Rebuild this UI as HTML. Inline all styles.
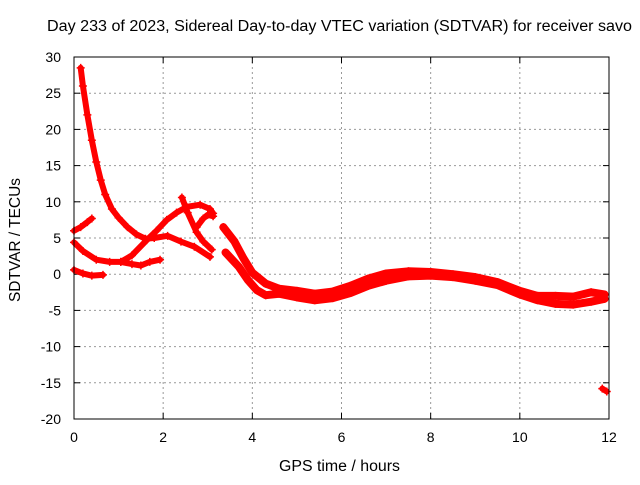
<!DOCTYPE html>
<html><head><meta charset="utf-8"><style>
body{margin:0;background:#fff}
svg text{font-family:"Liberation Sans",sans-serif;font-size:14px;fill:#000}
</style></head><body>
<svg id="chart" width="640" height="480" xmlns="http://www.w3.org/2000/svg">
<text x="47" y="31" textLength="585" lengthAdjust="spacingAndGlyphs" style="font-size:15.5px">Day 233 of 2023, Sidereal Day-to-day VTEC variation (SDTVAR) for receiver savo</text>
<g id="grid"></g>
<g id="ticks"></g>
<g id="series"></g>
<rect x="74" y="57" width="535" height="362" fill="none" stroke="#000" stroke-width="1"/>
<text x="279" y="471" textLength="121" lengthAdjust="spacingAndGlyphs" style="font-size:15.5px">GPS time / hours</text>
<text transform="translate(20,302) rotate(-90)" textLength="124" lengthAdjust="spacingAndGlyphs" style="font-size:15.5px">SDTVAR / TECUs</text>
</svg>
<script>
const xTicks=[0,2,4,6,8,10,12];
const yTicks=[30,25,20,15,10,5,0,-5,-10,-15,-20];
const seriesA=[[0.15,28.5],[0.2,26],[0.3,22],[0.4,18.5],[0.5,15.5],[0.6,13],[0.7,11],[0.85,9],[1.0,7.8],[1.2,6.5],[1.4,5.5],[1.6,4.9],[1.8,5.0],[2.1,5.3],[2.4,4.5],[2.7,3.8],[3.05,2.4]];
const seriesB=[[0,4.4],[0.2,3.2],[0.5,2.0],[0.8,1.7],[1.05,1.7],[1.3,2.6],[1.63,4.7],[1.85,6.0],[2.08,7.5],[2.3,8.5],[2.53,9.3],[2.83,9.6],[3.05,9.0],[3.12,8.4]];
const seriesB2=[[1.05,1.7],[1.3,1.4],[1.5,1.2],[1.7,1.7],[1.93,2.0]];
const seriesC=[[0,6.0],[0.15,6.5],[0.3,7.2],[0.4,7.7]];
const seriesD=[[0,0.6],[0.2,0.1],[0.4,-0.2],[0.65,-0.1]];
const seriesE=[[2.42,10.6],[2.55,8.5],[2.75,5.8],[2.9,4.5],[3.09,3.4]];
const seriesE2=[[2.75,6.5],[2.9,7.7],[3.0,8.2],[3.12,8.0]];
const seriesF1=[[3.35,6.5],[3.6,4.5],[3.8,2.2],[4.0,0.2],[4.3,-1.3],[4.6,-2.0],[5.0,-2.3],[5.4,-2.7],[5.8,-2.4],[6.2,-1.6],[6.6,-0.6],[7.0,0.1],[7.5,0.4],[8,0.3],[8.5,0.0],[9,-0.4],[9.5,-1.1],[10,-2.3],[10.4,-3.0],[10.8,-3.0],[11.2,-3.1],[11.6,-2.5],[11.9,-2.8]];
const seriesF2=[[3.4,3.0],[3.7,1.0],[3.9,-0.8],[4.1,-2.2],[4.3,-2.9],[4.6,-2.7],[5.0,-3.2],[5.4,-3.6],[5.8,-3.3],[6.2,-2.6],[6.6,-1.6],[7.0,-0.9],[7.5,-0.3],[8,-0.2],[8.5,-0.4],[9,-0.9],[9.5,-1.5],[10,-2.8],[10.4,-3.6],[10.8,-4.1],[11.2,-4.2],[11.6,-3.8],[11.9,-3.4]];
const seriesG=[[11.85,-15.8],[11.95,-16.2]];
const allSeries=[seriesA,seriesB,seriesB2,seriesC,seriesD,seriesE,seriesE2,seriesF1,seriesF2,seriesG];
const NS="http://www.w3.org/2000/svg";
const X0=74,X1=609,Y0=419,Y1=57;
function sx(v){return X0+(v-0)/(12-0)*(X1-X0);}
function sy(v){return Y0-(v+20)/50*(Y0-Y1);}
function mk(t,a,p){const e=document.createElementNS(NS,t);for(const k in a)e.setAttribute(k,a[k]);p.appendChild(e);return e;}
const grid=document.getElementById('grid'),ticks=document.getElementById('ticks'),ser=document.getElementById('series');
xTicks.forEach(v=>{const x=sx(v);
 if(v>0&&v<12){const l=mk('line',{x1:x,x2:x,y1:Y1,y2:Y0,stroke:'#999','stroke-dasharray':'2,3'},grid);
 
 }
 mk('line',{x1:x,x2:x,y1:Y0,y2:Y0-6,stroke:'#000'},ticks);
 mk('line',{x1:x,x2:x,y1:Y1,y2:Y1+6,stroke:'#000'},ticks);
 const t=mk('text',{x:x,y:Y0+23,'text-anchor':'middle'},ticks);t.textContent=v;
 
 });
yTicks.forEach(v=>{const y=sy(v);
 if(v>-20&&v<30){const l=mk('line',{x1:X0,x2:X1,y1:y,y2:y,stroke:'#999','stroke-dasharray':'2,3'},grid);
 
 }
 mk('line',{x1:X0,x2:X0+6,y1:y,y2:y,stroke:'#000'},ticks);
 mk('line',{x1:X1,x2:X1-6,y1:y,y2:y,stroke:'#000'},ticks);
 const t=mk('text',{x:X0-13,y:y+5,'text-anchor':'end'},ticks);t.textContent=v;
 
 });
allSeries.forEach(s=>{
 const pl=mk('polyline',{points:s.map(p=>sx(p[0])+','+sy(p[1])).join(' '),fill:'none',stroke:'#f00','stroke-width':s===seriesF1||s===seriesF2?8:6,'stroke-linejoin':'round','stroke-linecap':'round'},ser);
 
 
 s.forEach(p=>{const x=sx(p[0]),y=sy(p[1]);
  const m=mk('path',{d:`M${x-4},${y}H${x+4}M${x},${y-4}V${y+4}`,stroke:'#f00','stroke-width':1.5},ser);
  
  });
});
</script>
</body></html>
